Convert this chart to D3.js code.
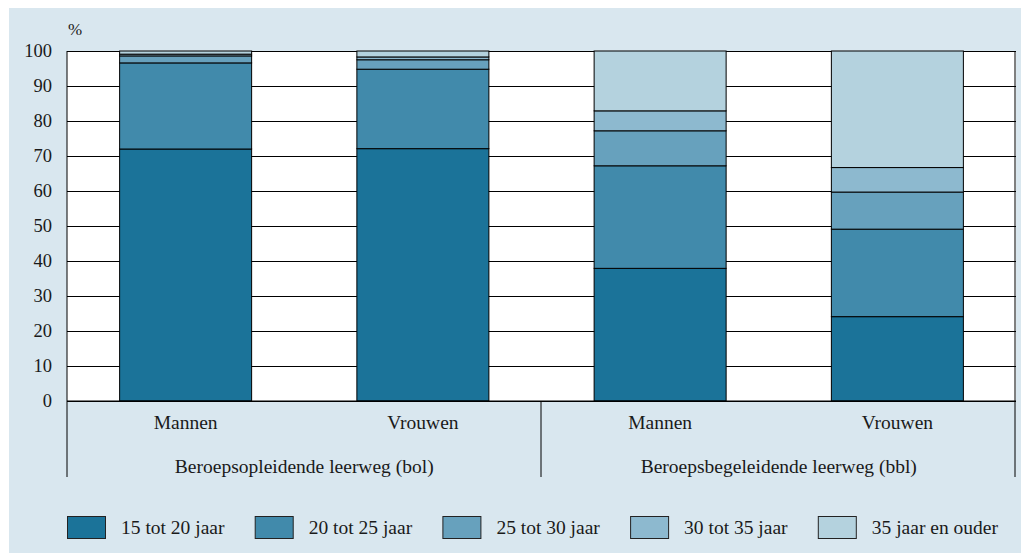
<!DOCTYPE html>
<html lang="nl">
<head>
<meta charset="UTF-8">
<title>Leeftijd deelnemers mbo</title>
<script src="https://d3js.org/d3.v7.min.js"></script>
<style>
  body { margin: 0; background: #fff; }
  .y.axis .domain { display: none; }
  .y.axis line { stroke: #000; }
</style>
</head>
<body>
<div id="chart"></div>
<script>
// data (percentages per bar, stacked bottom to top)
var ageClasses = ["15 tot 20 jaar", "20 tot 25 jaar", "25 tot 30 jaar", "30 tot 35 jaar", "35 jaar en ouder"];
var bars = ["Mannen", "Vrouwen", "Mannen", "Vrouwen"];
var groups = ["Beroepsopleidende leerweg (bol)", "Beroepsbegeleidende leerweg (bbl)"];
var s15_20 = [72.0, 72.1, 37.9, 24.1];
var s20_25 = [24.6, 22.7, 29.3, 25.0];
var s25_30 = [2.0, 2.7, 10.0, 10.6];
var s30_35 = [0.5, 0.8, 5.7, 7.0];
var s35plus = [0.9, 1.7, 17.1, 33.3];
var yTicks = [0, 10, 20, 30, 40, 50, 60, 70, 80, 90, 100];

var colors = ["#1b7399", "#418aab", "#67a1bd", "#8db9cf", "#b4d2de"];
var serif = "'Liberation Serif', serif";
var fs = 19.5;

var W = 1021, H = 553;
var plot = { left: 67, right: 1016, top: 51, bottom: 401 };

var table = bars.map(function(b, i) {
  var row = { idx: i, label: b };
  row[ageClasses[0]] = s15_20[i];
  row[ageClasses[1]] = s20_25[i];
  row[ageClasses[2]] = s25_30[i];
  row[ageClasses[3]] = s30_35[i];
  row[ageClasses[4]] = s35plus[i];
  return row;
});

var svg = d3.select("#chart").append("svg")
    .attr("width", W)
    .attr("height", H)
    .style("font-family", serif);

// light blue panel
svg.append("rect")
    .attr("x", 9).attr("y", 8)
    .attr("width", W - 9).attr("height", H - 8)
    .attr("fill", "#d9e7ef");

// plot area
svg.append("rect")
    .attr("x", plot.left).attr("y", plot.top)
    .attr("width", plot.right - plot.left).attr("height", plot.bottom - plot.top)
    .attr("fill", "#fff");

var x = d3.scaleBand()
    .domain(d3.range(bars.length))
    .range([plot.left, plot.right])
    .paddingInner(0.4436)
    .paddingOuter(0.2218);

var y = d3.scaleLinear()
    .domain([0, 100])
    .range([plot.bottom, plot.top]);

var color = d3.scaleOrdinal(ageClasses, colors);

svg.append("g")
    .attr("class", "y axis")
    .attr("transform", "translate(" + plot.left + ",0)")
    .call(d3.axisLeft(y).tickValues(yTicks).tickSize(-(plot.right - plot.left)).tickPadding(15))
    .call(function(g) {
      g.attr("font-family", null).attr("font-size", null);
      g.selectAll("text").style("font-size", "18.5px").attr("fill", "#1a1a1a");
    });

svg.append("text")
    .attr("x", 68).attr("y", 35)
    .style("font-size", "17px")
    .attr("fill", "#1a1a1a")
    .text("%");

var series = d3.stack().keys(ageClasses)(table);

svg.append("g").selectAll("g")
    .data(series)
  .enter().append("g")
    .attr("fill", function(d) { return color(d.key); })
  .selectAll("rect")
    .data(function(d) { return d; })
  .enter().append("rect")
    .attr("x", function(d) { return x(d.data.idx); })
    .attr("width", x.bandwidth())
    .attr("y", function(d) { return y(d[1]); })
    .attr("height", function(d) { return y(d[0]) - y(d[1]); })
    .attr("stroke", "#000")
    .attr("stroke-width", 1);

// frame lines
var frame = svg.append("g").attr("stroke", "#000").attr("stroke-width", 1);
frame.append("line").attr("x1", plot.left).attr("x2", plot.right).attr("y1", plot.bottom).attr("y2", plot.bottom);
frame.append("line").attr("x1", plot.left).attr("x2", plot.left).attr("y1", plot.top).attr("y2", 477);
frame.append("line").attr("x1", plot.right - 1).attr("x2", plot.right - 1).attr("y1", plot.top).attr("y2", 477);
frame.append("line").attr("x1", 541).attr("x2", 541).attr("y1", plot.bottom).attr("y2", 477);

// category labels
svg.append("g").selectAll("text")
    .data(bars)
  .enter().append("text")
    .attr("x", function(d, i) { return x(i) + x.bandwidth() / 2; })
    .attr("y", 429)
    .attr("text-anchor", "middle")
    .style("font-size", fs + "px")
    .attr("fill", "#1a1a1a")
    .text(function(d) { return d; });

svg.append("g").selectAll("text")
    .data(groups)
  .enter().append("text")
    .attr("x", function(d, i) { return (x(i * 2) + x(i * 2 + 1) + x.bandwidth()) / 2; })
    .attr("y", 473)
    .attr("text-anchor", "middle")
    .style("font-size", fs + "px")
    .attr("fill", "#1a1a1a")
    .text(function(d) { return d; });

// legend
var legend = svg.selectAll(".legend")
    .data(ageClasses)
  .enter().append("g")
    .attr("class", "legend")
    .attr("transform", function(d, i) { return "translate(" + (67 + i * 187.7) + ",516)"; });

legend.append("rect")
    .attr("x", 0.5).attr("y", 0.5)
    .attr("width", 38).attr("height", 22)
    .attr("fill", function(d) { return color(d); })
    .attr("stroke", "#222");

legend.append("text")
    .attr("x", 54)
    .attr("y", 17.5)
    .style("font-size", fs + "px")
    .attr("fill", "#1a1a1a")
    .text(function(d) { return d; });
</script>
</body>
</html>
